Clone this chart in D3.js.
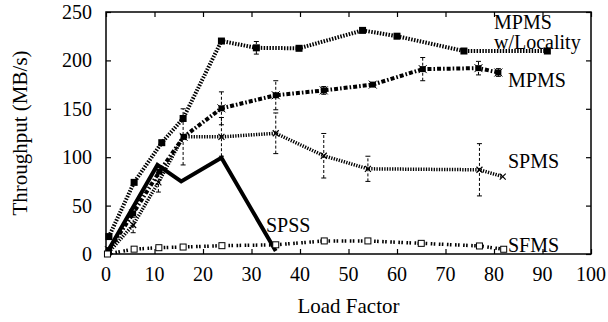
<!DOCTYPE html>
<html>
<head>
<meta charset="utf-8">
<script src="https://cdn.jsdelivr.net/npm/d3@7"></script>
</head>
<body style="margin:0">
<div id="chart"></div>
<script>
const width = 608
const height = 322
const margin = { top: 12, bottom: 68, left: 106, right: 17 }

// datos
const xTicks = [0, 10, 20, 30, 40, 50, 60, 70, 80, 90, 100]
const yTicks = [0, 50, 100, 150, 200, 250]

const locX = [0.6, 5.8, 11.5, 15.9, 23.8, 31, 39.8, 52.9, 60, 73.8, 91]
const locY = [18, 74, 115, 140, 220, 213, 212.5, 231, 225, 209.7, 209.7]
const locErr = [0, 0, 0, 0, 0, 6.5, 0, 0, 0, 0, 0]

const mpmsX = [0.6, 5.6, 11, 16, 23.8, 35, 44.9, 55, 65.3, 76.8, 80.9]
const mpmsY = [4, 42, 85, 121, 150.5, 164, 169, 175, 191, 192, 187.5]
const mpmsErr = [0, 0, 0, 0, 17, 15, 4, 0, 12, 7, 4]

const spmsX = [0.6, 5.6, 10.8, 15.9, 23.8, 35, 44.9, 54, 77, 81.8]
const spmsY = [2, 30, 74, 121, 121, 124.7, 101.5, 88, 87, 80]
const spmsErr = [0, 8, 10, 29, 20, 21, 23, 13, 27, 0]

const spssX = [0.6, 10.6, 15.5, 23.8, 35]
const spssY = [5, 92, 75, 99.5, 3]

const sfmsX = [0.3, 5.8, 10.9, 15.9, 23.9, 35, 45, 54, 65, 77, 82]
const sfmsY = [0, 5, 6.5, 7.2, 8.6, 9.5, 13.5, 13.5, 11, 8.3, 4.9]

const zip = (xs, ys, es) => xs.map((v, i) => ({ x: v, y: ys[i], e: es ? es[i] : 0 }))

const series = [
  { name: "loc", data: zip(locX, locY, locErr), w: 4, dash: "1.5,1.4", marker: "fsquare" },
  { name: "mpms", data: zip(mpmsX, mpmsY, mpmsErr), w: 4, dash: "4,2,1.6,2", marker: "star" },
  { name: "spms", data: zip(spmsX, spmsY, spmsErr), w: 3.5, dash: "1.3,1.3", marker: "cross" },
  { name: "sfms", data: zip(sfmsX, sfmsY), w: 3.5, dash: "1.6,1.4,1.6,3.5", marker: "osquare" },
  { name: "spss", data: zip(spssX, spssY), w: 4, dash: null, marker: null }
]

const labels = [
  { t: "MPMS", x: 494, y: 29 },
  { t: "w/Locality", x: 494, y: 49 },
  { t: "MPMS", x: 508, y: 87 },
  { t: "SPMS", x: 508, y: 168 },
  { t: "SFMS", x: 508, y: 252 },
  { t: "SPSS", x: 266, y: 232 }
]

const FONT = '"Liberation Serif", "Times New Roman", serif'

const svg = d3.select("#chart").append("svg")
  .attr("width", width)
  .attr("height", height)

const iw = width - margin.left - margin.right
const ih = height - margin.top - margin.bottom

const x = d3.scaleLinear().domain([0, 100]).range([margin.left, margin.left + iw])
const y = d3.scaleLinear().domain([0, 250]).range([margin.top + ih, margin.top])

// ticks hacia dentro en los cuatro lados
svg.append("g").attr("transform", `translate(0,${margin.top + ih})`)
  .call(d3.axisBottom(x).tickValues(xTicks).tickSize(-5).tickFormat(""))
svg.append("g").attr("transform", `translate(${margin.left},0)`)
  .call(d3.axisLeft(y).tickValues(yTicks).tickSize(-5).tickFormat(""))
svg.append("g").attr("transform", `translate(0,${margin.top})`)
  .call(d3.axisTop(x).tickValues(xTicks).tickSize(-5).tickFormat(""))
svg.append("g").attr("transform", `translate(${margin.left + iw},0)`)
  .call(d3.axisRight(y).tickValues(yTicks).tickSize(-5).tickFormat(""))
svg.selectAll(".domain").remove()
svg.selectAll(".tick line").attr("stroke", "#000").attr("stroke-width", 1.2)

// etiquetas de los ejes
svg.selectAll("text.xt").data(xTicks).join("text")
  .attr("class", "xt")
  .attr("x", d => x(d)).attr("y", 281)
  .attr("text-anchor", "middle")
  .attr("font-size", 20).style("font-family", FONT)
  .text(d => d)
svg.selectAll("text.yt").data(yTicks).join("text")
  .attr("class", "yt")
  .attr("x", 92).attr("y", d => y(d) + 7)
  .attr("text-anchor", "end")
  .attr("font-size", 20).style("font-family", FONT)
  .text(d => d)

svg.append("rect")
  .attr("x", margin.left).attr("y", margin.top)
  .attr("width", iw).attr("height", ih)
  .attr("fill", "none").attr("stroke", "#000").attr("stroke-width", 1.5)

svg.append("text")
  .attr("transform", `translate(27,${margin.top + ih / 2}) rotate(-90)`)
  .attr("text-anchor", "middle")
  .attr("font-size", 21).style("font-family", FONT)
  .text("Throughput (MB/s)")

svg.append("text")
  .attr("x", margin.left + iw / 2).attr("y", 313)
  .attr("text-anchor", "middle")
  .attr("font-size", 21).style("font-family", FONT)
  .text("Load Factor")

const line = d3.line().x(d => x(d.x)).y(d => y(d.y))
const plot = svg.append("g")

// barras de error
series.forEach(s => {
  const eb = s.data.filter(d => d.e > 0)
  const g = plot.append("g")
  g.selectAll("line.v").data(eb).join("line")
    .attr("x1", d => x(d.x)).attr("x2", d => x(d.x))
    .attr("y1", d => y(d.y - d.e)).attr("y2", d => y(d.y + d.e))
    .attr("stroke", "#000").attr("stroke-width", 1).attr("stroke-dasharray", "3,2")
  ;[-1, 1].forEach(k => {
    g.selectAll("line.c" + (k + 1)).data(eb).join("line")
      .attr("x1", d => x(d.x) - 2.5).attr("x2", d => x(d.x) + 2.5)
      .attr("y1", d => y(d.y + k * d.e)).attr("y2", d => y(d.y + k * d.e))
      .attr("stroke", "#000").attr("stroke-width", 1)
  })
})

// lineas
series.forEach(s => {
  plot.append("path")
    .datum(s.data)
    .attr("d", line)
    .attr("fill", "none")
    .attr("stroke", "#000")
    .attr("stroke-width", s.w)
    .attr("stroke-dasharray", s.dash)
    .attr("stroke-linejoin", "miter")
})

// marcadores
series.forEach(s => {
  if (!s.marker) return
  const g = plot.append("g")
  s.data.forEach(d => {
    const cx = x(d.x), cy = y(d.y)
    if (s.marker === "fsquare") {
      g.append("rect").attr("x", cx - 3.5).attr("y", cy - 3.5).attr("width", 7).attr("height", 7).attr("fill", "#000")
    } else if (s.marker === "osquare") {
      g.append("rect").attr("x", cx - 3).attr("y", cy - 3).attr("width", 6).attr("height", 6)
        .attr("fill", "#fff").attr("stroke", "#000").attr("stroke-width", 1)
    } else if (s.marker === "star") {
      g.append("rect").attr("x", cx - 3).attr("y", cy - 3).attr("width", 6).attr("height", 6).attr("fill", "#000")
      g.append("path").attr("d", `M${cx - 4},${cy - 4}L${cx + 4},${cy + 4}M${cx - 4},${cy + 4}L${cx + 4},${cy - 4}`)
        .attr("stroke", "#000").attr("stroke-width", 1)
    } else if (s.marker === "cross") {
      g.append("path").attr("d", `M${cx - 3},${cy - 3}L${cx + 3},${cy + 3}M${cx - 3},${cy + 3}L${cx + 3},${cy - 3}`)
        .attr("stroke", "#000").attr("stroke-width", 1.2)
    }
  })
})

// etiquetas de series
svg.selectAll("text.lab").data(labels).join("text")
  .attr("class", "lab")
  .attr("x", d => d.x).attr("y", d => d.y)
  .attr("font-size", 20).style("font-family", FONT)
  .text(d => d.t)
</script>
</body>
</html>
